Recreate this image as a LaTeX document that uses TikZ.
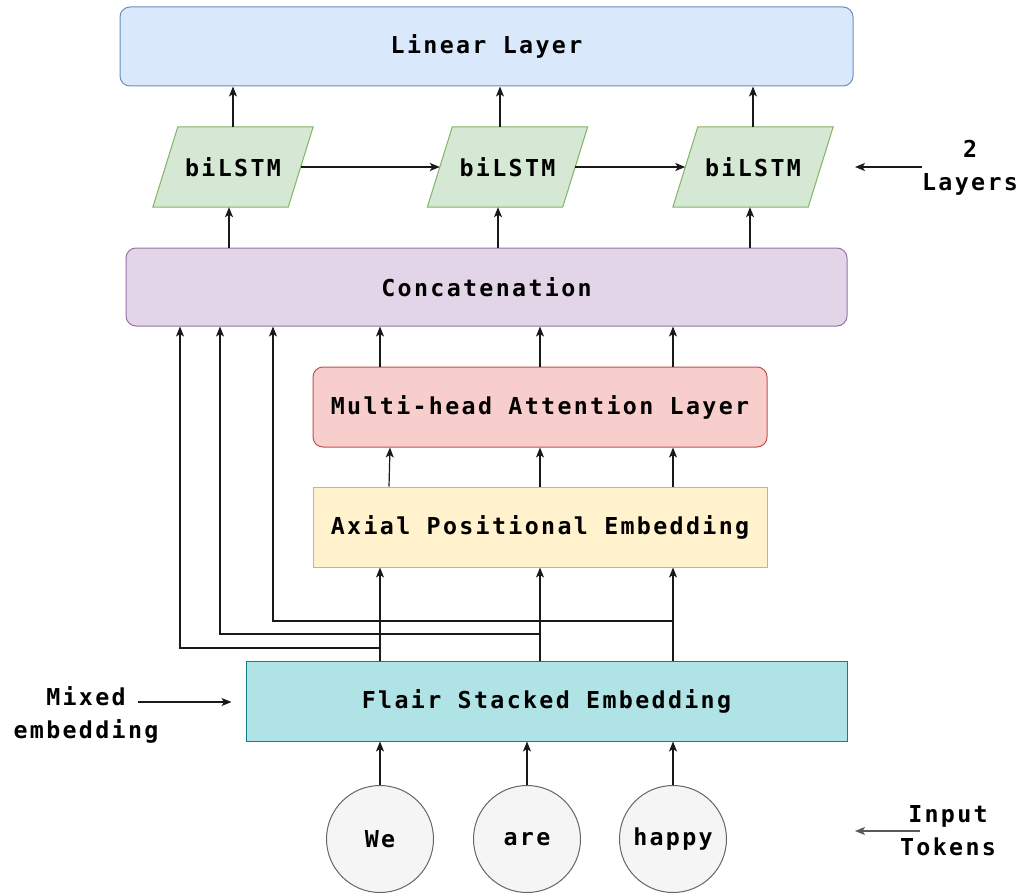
\documentclass[tikz,border=0pt]{standalone}
\usepackage{fontspec}
\newfontfamily\monolabel{DejaVu Sans Mono}[LetterSpace=10]
\usetikzlibrary{arrows.meta,backgrounds}

\definecolor{linfill}{HTML}{DAE8FC}\definecolor{linline}{HTML}{6C8EBF}
\definecolor{lstmfill}{HTML}{D5E8D4}\definecolor{lstmline}{HTML}{82B366}
\definecolor{catfill}{HTML}{E1D5E7}\definecolor{catline}{HTML}{9673A6}
\definecolor{mhfill}{HTML}{F8CECC}\definecolor{mhline}{HTML}{B85450}
\definecolor{axfill}{HTML}{FFF2CC}\definecolor{axline}{HTML}{D6B656}
\definecolor{flfill}{HTML}{B0E3E6}\definecolor{flline}{HTML}{0E8088}
\definecolor{tokfill}{HTML}{F5F5F5}\definecolor{tokline}{HTML}{666666}

\newcommand\diagfont{\monolabel\bfseries\fontsize{23.3}{33}\selectfont}

\tikzset{
  box/.style={draw, line width=1pt, inner sep=0pt, font=\diagfont, align=center},
  rbox/.style={box, rounded corners=10pt},
  lstm/.style={font=\diagfont, minimum width=135pt, minimum height=80pt, inner sep=0pt},
  lstmshape/.style={fill=lstmfill, draw=lstmline, line width=1pt},
  token/.style={circle, draw=tokline, fill=tokfill, line width=1pt, minimum size=107pt, inner sep=0pt, font=\diagfont},
  note/.style={font=\diagfont, align=center, inner sep=0pt},
  arr/.style={-{Stealth[length=10pt,width=8pt,inset=2.5pt]}, line width=1.2pt, black!90},
}

\begin{document}
\begin{tikzpicture}[x=1pt,y=-1pt]
\useasboundingbox (0,0) rectangle (1024,893);

% column positions of the vertical connectors
\coordinate (c1) at (380,0);
\coordinate (c2) at (540,0);
\coordinate (c3) at (673,0);

% layers
\node[rbox, fill=linfill, draw=linline, minimum width=733pt, minimum height=79pt] (lin) at (486.5,46.5) {Linear Layer};

\node[lstm] (b1) at (233,167) {biLSTM};
\node[lstm] (b2) at (507.5,167) {biLSTM};
\node[lstm] (b3) at (753,167) {biLSTM};
\begin{scope}[on background layer]
  \foreach \b in {b1,b2,b3}{
    \path[lstmshape] ([xshift=12.5pt]\b.north west) -- ([xshift=12.5pt]\b.north east)
      -- ([xshift=-12.5pt]\b.south east) -- ([xshift=-12.5pt]\b.south west) -- cycle;
  }
\end{scope}

\node[rbox, fill=catfill, draw=catline, minimum width=721pt, minimum height=78pt] (cat) at (486.5,287) {Concatenation};
\node[rbox, fill=mhfill, draw=mhline, minimum width=454pt, minimum height=80pt] (mh) at (540,407) {Multi-head Attention Layer};
\node[box, fill=axfill, draw=axline, minimum width=454pt, minimum height=80pt] (ax) at (540,527) {Axial Positional Embedding};
\node[box, fill=flfill, draw=flline, minimum width=601pt, minimum height=80pt] (fl) at (546.5,701) {Flair Stacked Embedding};

\node[token] (we) at (380,839) {We};
\node[token] (are) at (527,839) {are};
\node[token] (happy) at (673,839) {happy};

% side notes
\node[note] (layers) at (970,167.5) {2\\Layers};
\node[note] (mixed) at (86,715) {Mixed\\embedding};
\node[note] (input) at (948,831) {Input\\Tokens};
\coordinate (layersTip) at (855,167);
\coordinate (mixedTail) at (138,702);
\coordinate (inputTail) at (920,831);
\coordinate (inputTip) at (855,831);

\draw[arr] (layers.west |- layersTip) -- (layersTip);
\draw[arr] (mixedTail) -- ([xshift=-14pt]fl.west |- mixedTail);
\draw[arr, black!65] (inputTail) -- (inputTip);

% tokens into the stacked embedding
\draw[arr] (we.north) -- (fl.south -| we);
\draw[arr] (are.north) -- (fl.south -| are);
\draw[arr] (happy.north) -- (fl.south -| happy);

% stacked embedding into the positional embedding
\draw[arr] (fl.north -| c1) -- (ax.south -| c1);
\draw[arr] (fl.north -| c2) -- (ax.south -| c2);
\draw[arr] (fl.north -| c3) -- (ax.south -| c3);

% skip connections to the concatenation
\coordinate (k1) at (180,648);
\coordinate (k2) at (220,634);
\coordinate (k3) at (273,621);
\draw[arr] (fl.north -| c1) |- (k1) -- (k1 |- cat.south);
\draw[arr] (fl.north -| c2) |- (k2) -- (k2 |- cat.south);
\draw[arr] (fl.north -| c3) |- (k3) -- (k3 |- cat.south);

% positional embedding into attention
\draw[arr] ([xshift=9pt]ax.north -| c1) -- ([xshift=10pt]mh.south -| c1);
\draw[arr] (ax.north -| c2) -- (mh.south -| c2);
\draw[arr] (ax.north -| c3) -- (mh.south -| c3);

% attention into the concatenation
\draw[arr] (mh.north -| c1) -- (cat.south -| c1);
\draw[arr] (mh.north -| c2) -- (cat.south -| c2);
\draw[arr] (mh.north -| c3) -- (cat.south -| c3);

% concatenation into the biLSTM layers
\draw[arr] ([xshift=-4pt]cat.north -| b1) -- ([xshift=-4pt]b1.south);
\draw[arr] ([xshift=-9.5pt]cat.north -| b2) -- ([xshift=-9.5pt]b2.south);
\draw[arr] ([xshift=-3pt]cat.north -| b3) -- ([xshift=-3pt]b3.south);

% recurrence between the biLSTM cells
\draw[arr] (b1.east) -- (b2.west);
\draw[arr] (b2.east) -- (b3.west);

% biLSTM outputs into the linear layer
\draw[arr] (b1.north) -- (lin.south -| b1);
\draw[arr] ([xshift=-7.5pt]b2.north) -- ([xshift=-7.5pt]lin.south -| b2);
\draw[arr] (b3.north) -- (lin.south -| b3);
\end{tikzpicture}
\end{document}
